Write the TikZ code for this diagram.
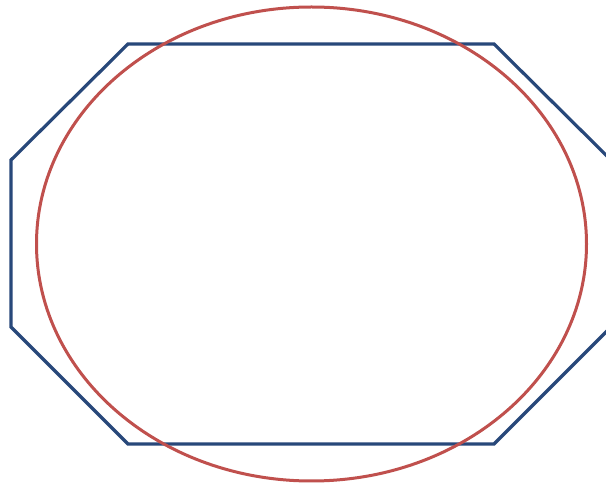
\documentclass[tikz,border=0pt]{standalone}
\definecolor{octblue}{RGB}{40,72,122}
\definecolor{ellred}{RGB}{192,80,77}
\begin{document}
\begin{tikzpicture}[x=1pt,y=-1pt,
  octline/.style={draw=octblue,line width=3.2pt,line join=miter},
  ellline/.style={draw=ellred,line width=3pt}]
\useasboundingbox (0,0) rectangle (606,486);
\clip (0,0) rectangle (606,486);
\fill[white] (0,0) rectangle (606,486);
\draw[octline] (128,44) -- (494,44) -- (611,160) -- (611,327) -- (494,444) -- (128,444) -- (11,327) -- (11,160) -- cycle;
\draw[ellline] (311.5,244) ellipse [x radius=275, y radius=237];
\end{tikzpicture}
\end{document}
